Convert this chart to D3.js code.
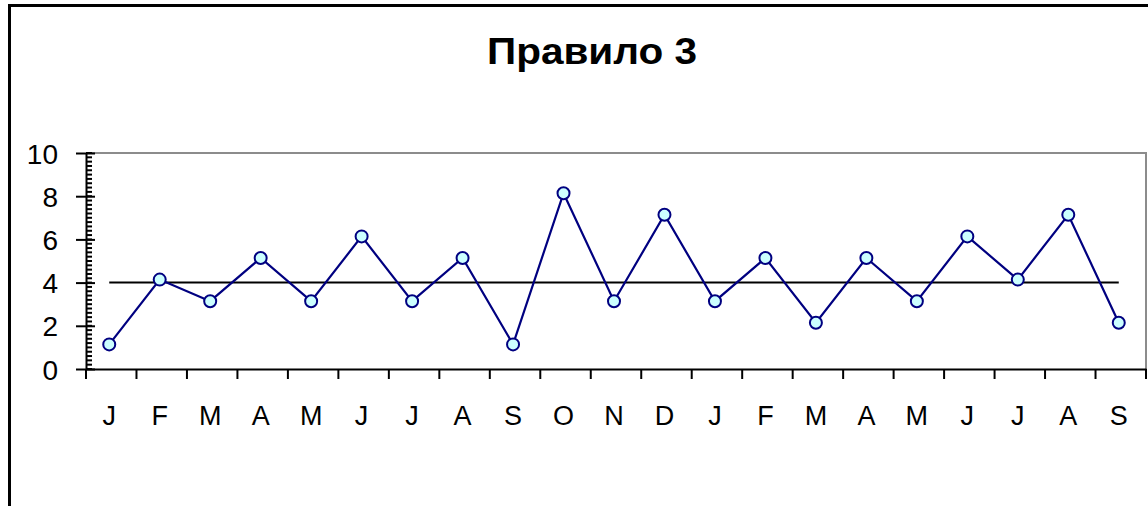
<!DOCTYPE html>
<html>
<head>
<meta charset="utf-8">
<script src="https://cdn.jsdelivr.net/npm/d3@7"></script>
<style>
  html, body { margin: 0; padding: 0; background: #fff; }
  svg { display: block; font-family: "Liberation Sans", Arial, sans-serif; }
</style>
</head>
<body>
<svg id="chart" width="1148" height="506"></svg>
<script>
// Monthly counts over 21 months
const months = ["J","F","M","A","M","J","J","A","S","O","N","D","J","F","M","A","M","J","J","A","S"];
const values = [1, 4, 3, 5, 3, 6, 3, 5, 1, 8, 3, 7, 3, 5, 2, 5, 3, 6, 4, 7, 2];
const centerLine = [4];
const yTicks = [0, 2, 4, 6, 8, 10];
const title = "Правило 3";

const svg = d3.select("#chart");
const W = 1148, H = 506;
const plot = { left: 86, right: 1146, top: 153, bottom: 369 };

// outer frame (clipped on the right and bottom)
svg.append("path")
  .attr("d", `M9.5,${H + 5} V5.5 H${W + 5}`)
  .attr("fill", "none").attr("stroke", "#000").attr("stroke-width", 3);

svg.append("text")
  .attr("x", 592).attr("y", 64)
  .attr("text-anchor", "middle")
  .attr("font-size", 36).attr("font-weight", "bold")
  .attr("textLength", 210).attr("lengthAdjust", "spacingAndGlyphs")
  .text(title);

const idx = months.map((m, i) => i);
const x = d3.scaleBand().domain(idx).range([plot.left, plot.right]).padding(0);
const y = d3.scaleLinear().domain([0, 10]).range([plot.bottom, plot.top]);

// plot area border (top and right in grey)
svg.append("path")
  .attr("d", `M${plot.left},${plot.top} H${plot.right} V${plot.bottom}`)
  .attr("fill", "none").attr("stroke", "#8c8c8c").attr("stroke-width", 2);

// y axis: minor ticks inside, major ticks crossing
const minor = d3.range(0, 10.001, 0.2);
svg.append("g").selectAll("line").data(minor).join("line")
  .attr("x1", plot.left).attr("x2", plot.left + 6)
  .attr("y1", d => y(d)).attr("y2", d => y(d))
  .attr("stroke", "#000").attr("stroke-width", 2);

const yAxis = d3.axisLeft(y).tickValues(yTicks).tickSizeInner(10).tickSizeOuter(0).tickPadding(18);
const gy = svg.append("g").attr("transform", `translate(${plot.left},0)`).call(yAxis);
gy.select(".domain").attr("stroke", "#000").attr("stroke-width", 2);
gy.selectAll(".tick line").attr("x2", -10).attr("x1", 9).attr("stroke", "#000").attr("stroke-width", 2);
gy.selectAll(".tick text").attr("font-size", 28).attr("fill", "#000")
  .attr("font-family", "Liberation Sans, Arial, sans-serif").attr("dy", "0.36em");

// x axis: ticks between categories
const xAxis = d3.axisBottom(x).tickSize(0).tickPadding(0).tickFormat(i => months[i]);
const gx = svg.append("g").attr("transform", `translate(0,${plot.bottom})`).call(xAxis);
gx.select(".domain").attr("stroke", "#000").attr("stroke-width", 2);
gx.selectAll(".tick text").attr("font-size", 27).attr("fill", "#000")
  .attr("font-family", "Liberation Sans, Arial, sans-serif")
  .attr("dx", -2).attr("y", 56).attr("dy", 0);
const bounds = idx.map(i => x(i)).concat([plot.right]);
gx.append("g").selectAll("line").data(bounds).join("line")
  .attr("x1", d => d).attr("x2", d => d).attr("y1", 0).attr("y2", 10)
  .attr("stroke", "#000").attr("stroke-width", 2);

// centre line and series
const cx = i => x(i) + x.bandwidth() / 2;
const series = svg.append("g").attr("transform", "translate(-2,0)");
series.selectAll(".center").data(centerLine).join("line")
  .attr("class", "center")
  .attr("x1", cx(0)).attr("x2", cx(idx.length - 1))
  .attr("y1", d => y(d)).attr("y2", d => y(d))
  .attr("stroke", "#000").attr("stroke-width", 2);

const pts = series.append("g").attr("transform", "translate(0,-3)");
pts.append("path")
  .datum(values)
  .attr("d", d3.line().x((d, i) => cx(i)).y(d => y(d)))
  .attr("fill", "none").attr("stroke", "#000080").attr("stroke-width", 2.2);
pts.selectAll("circle").data(values).join("circle")
  .attr("cx", (d, i) => cx(i)).attr("cy", d => y(d)).attr("r", 6)
  .attr("fill", "#ccffff").attr("stroke", "#000080").attr("stroke-width", 2);
</script>
</body>
</html>
